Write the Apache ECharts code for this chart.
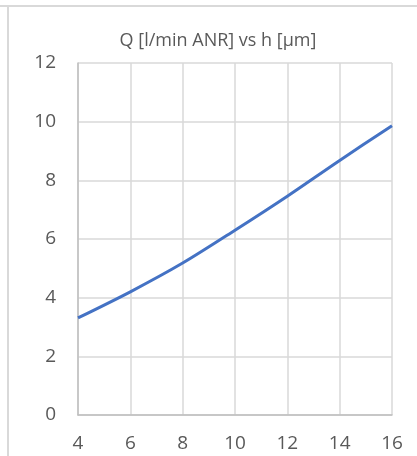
<!DOCTYPE html>
<html>
<head>
<meta charset="utf-8">
<script src="https://cdn.jsdelivr.net/npm/echarts@6/dist/echarts.min.js"></script>
<style>
  html, body { margin: 0; padding: 0; background: #fff; }
  #frameTop { position: absolute; left: 0; top: 5px; width: 417px; height: 2px; background: #d9d9d9; }
  #frameLeft { position: absolute; left: 7px; top: 6px; width: 2px; height: 450px; background: #d9d9d9; }
  #chart { position: absolute; left: 0; top: 0; width: 417px; height: 456px; }
</style>
</head>
<body>
<div id="frameTop"></div>
<div id="frameLeft"></div>
<div id="chart"></div>
<script>
const title = 'Q [l/min ANR] vs h [µm]';
const hValues = [4, 6, 8, 10, 12, 14, 16];
const qValues = [3.31, 4.2, 5.18, 6.3, 7.46, 8.68, 9.86];

const chart = echarts.init(document.getElementById('chart'), null, { renderer: 'canvas' });
const fontFamily = '"Open Sans", "Noto Sans", sans-serif';
chart.setOption({
  animation: false,
  backgroundColor: 'transparent',
  title: {
    text: title,
    left: 213,
    textAlign: 'center',
    top: 27,
    textStyle: { fontFamily, fontSize: 18, fontWeight: 'normal', color: '#595959' }
  },
  grid: { left: 78, right: 25, top: 63, bottom: 41, containLabel: false },
  xAxis: {
    type: 'value',
    min: 4, max: 16, interval: 2,
    axisLine: { show: true, lineStyle: { color: '#bfbfbf', width: 1.5 } },
    axisTick: { show: false },
    axisLabel: { fontFamily, fontSize: 19, color: '#595959', margin: 19 },
    splitLine: { show: true, lineStyle: { color: '#d9d9d9', width: 1.5 } }
  },
  yAxis: {
    type: 'value',
    min: 0, max: 12, interval: 2,
    axisLine: { show: true, lineStyle: { color: '#bfbfbf', width: 1.5 } },
    axisTick: { show: false },
    axisLabel: { fontFamily, fontSize: 19, color: '#595959', margin: 22 },
    splitLine: { show: true, lineStyle: { color: '#d9d9d9', width: 1.5 } }
  },
  series: [{
    type: 'line',
    data: hValues.map((h, i) => [h, qValues[i]]),
    smooth: 0.3,
    showSymbol: false,
    lineStyle: { color: '#4472c4', width: 3 }
  }]
});
</script>
</body>
</html>
